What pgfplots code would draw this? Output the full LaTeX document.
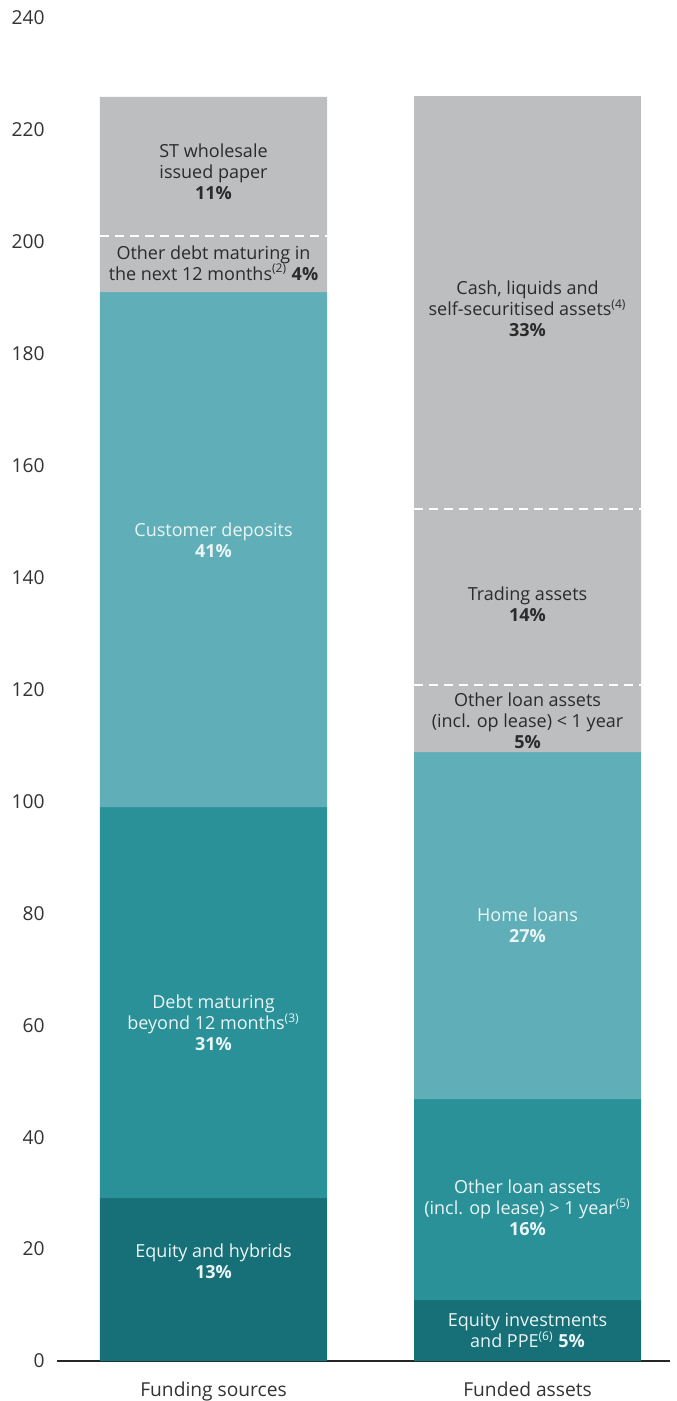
\documentclass[border=0pt]{standalone}
\usepackage{fontspec}
\setmainfont{Open Sans}
\usepackage{pgfplots}
\pgfplotsset{compat=1.18}
\definecolor{dteal}{HTML}{176F77}
\definecolor{mteal}{HTML}{2A9199}
\definecolor{lteal}{HTML}{60AFB8}
\definecolor{sgrey}{HTML}{BDBEC0}
\definecolor{dtext}{HTML}{2B2B2B}
\definecolor{ltext}{HTML}{EAF5F6}
\definecolor{ticktext}{HTML}{333333}
\tikzset{lbl/.style={font=\fontsize{9}{10.5}\selectfont, align=center, inner sep=0pt}}
\begin{document}
\begin{tikzpicture}
\begin{axis}[
  scale only axis, width=306.5pt, height=671.5pt,
  xmin=57, xmax=670, ymin=0, ymax=240,
  ybar stacked, bar width=227, reverse stacked plots=false,
  axis lines*=left,
  y axis line style={draw=none},
  x axis line style={-, black!85, line width=0.6pt},
  xtick={213.5,527.5}, xticklabels={Funding sources, Funded assets},
  ytick={0,20,...,240},
  major tick length=0pt,
  tick label style={font=\fontsize{9.6}{10}\selectfont, text=ticktext},
  /pgf/number format/assume math mode=true,
  xticklabel style={anchor=base, inner sep=0pt, yshift=-17.5pt},
  yticklabel style={anchor=east, inner sep=0pt, xshift=-6pt},
  clip=false,
]
\addplot[fill=dteal, draw=none] coordinates {(213.5,29.1) (527.5,10.9)};
\addplot[fill=mteal, draw=none] coordinates {(213.5,69.9) (527.5,35.9)};
\addplot[fill=lteal, draw=none] coordinates {(213.5,92.0) (527.5,62.0)};
\addplot[fill=sgrey, draw=none] coordinates {(213.5,10.0) (527.5,12.0)};
\addplot[fill=sgrey, draw=none] coordinates {(213.5,24.9) (527.5,31.5)};
\addplot[fill=sgrey, draw=none] coordinates {(213.5,0) (527.5,73.8)};

\draw[white, line width=1pt, dash pattern=on 4.5pt off 3pt] (axis cs:100,201.0) -- (axis cs:327,201.0);
\draw[white, line width=1pt, dash pattern=on 4.5pt off 3pt] (axis cs:414,120.8) -- (axis cs:641,120.8);
\draw[white, line width=1pt, dash pattern=on 4.5pt off 3pt] (axis cs:414,152.3) -- (axis cs:641,152.3);

% Funding sources labels
\node[lbl, text=dtext] at (axis cs:213.5,212.5) {ST wholesale\\issued paper\\\textbf{11\%}};
\node[lbl, text=dtext] at (axis cs:213.5,196.2) {Other debt maturing in\\the next 12 months\textsuperscript{(2)} \textbf{4\%}};
\node[lbl, text=ltext] at (axis cs:213.5,146.7) {Customer deposits\\\textbf{41\%}};
\node[lbl, text=ltext] at (axis cs:213.5,60.4) {Debt maturing\\beyond 12 months\textsuperscript{(3)}\\\textbf{31\%}};
\node[lbl, text=ltext] at (axis cs:213.5,17.9) {Equity and hybrids\\\textbf{13\%}};
% Funded assets labels
\node[lbl, text=dtext] at (axis cs:527.5,188.0) {Cash, liquids and\\self-securitised assets\textsuperscript{(4)}\\\textbf{33\%}};
\node[lbl, text=dtext] at (axis cs:527.5,135.3) {Trading assets\\\textbf{14\%}};
\node[lbl, text=dtext] at (axis cs:527.5,114.4) {Other loan assets\\(incl. op lease) < 1 year\\\textbf{5\%}};
\node[lbl, text=ltext] at (axis cs:527.5,77.9) {Home loans\\\textbf{27\%}};
\node[lbl, text=ltext] at (axis cs:527.5,27.3) {Other loan assets\\(incl. op lease) > 1 year\textsuperscript{(5)}\\\textbf{16\%}};
\node[lbl, text=ltext] at (axis cs:527.5,5.4) {Equity investments\\and PPE\textsuperscript{(6)} \textbf{5\%}};

\path ([xshift=-28.5pt,yshift=-20pt]rel axis cs:0,0) rectangle ([xshift=3pt,yshift=9pt]rel axis cs:1,1);
\end{axis}
\end{tikzpicture}
\end{document}
